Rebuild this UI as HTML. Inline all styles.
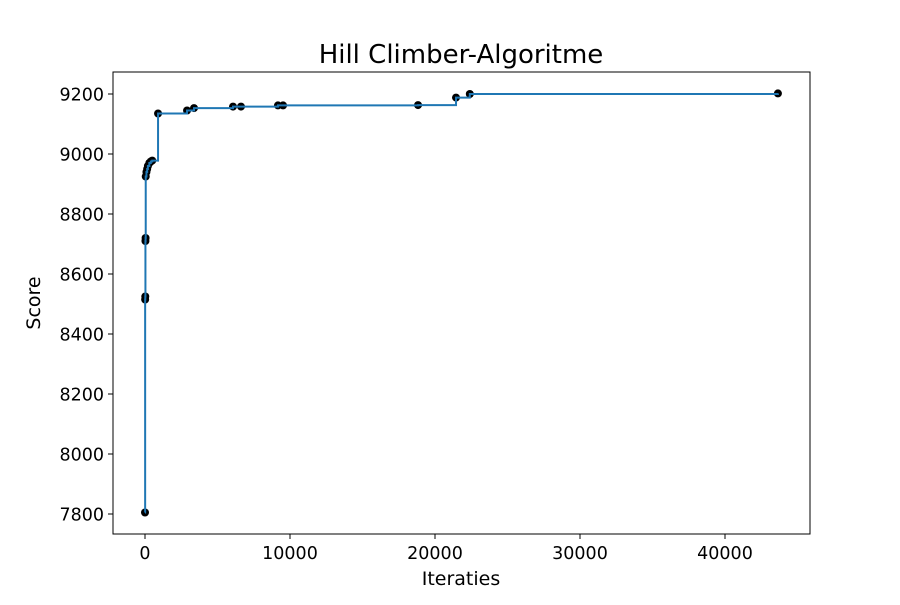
<!DOCTYPE html>
<html><head><meta charset="utf-8"><style>
html,body{margin:0;padding:0;background:#fff;}
svg text{font-family:"DejaVu Sans","Liberation Sans",sans-serif;fill:#000;}
</style></head><body>
<svg id="chart" width="900" height="600" xmlns="http://www.w3.org/2000/svg">
<rect width="900" height="600" fill="#fff"/>
<text x="461" y="63" font-size="26" text-anchor="middle">Hill Climber-Algoritme</text>
<text x="461" y="585" font-size="19" text-anchor="middle">Iteraties</text>
<text transform="translate(40,303) rotate(-90)" font-size="19" text-anchor="middle">Score</text>
<g id="plot"></g>
<rect x="113" y="72" width="697" height="462" fill="none" stroke="#000" stroke-width="1"/>
</svg>
<script>
const iterations=[0,10,20,30,40,50,100,150,200,300,400,500,900,2900,3380,6070,6620,9170,9520,18830,21450,22400,43650];
const scores=[7805,8515,8525,8710,8720,8925,8940,8950,8960,8970,8975,8978,9135,9145,9153,9158,9158,9162,9162,9163,9188,9200,9202];
const xTicks=[0,10000,20000,30000,40000];
const yTicks=[7800,8000,8200,8400,8600,8800,9000,9200];
const NS="http://www.w3.org/2000/svg";
const g=document.getElementById('plot');
function xs(v){return 145+v*0.0145;}
function ys(v){return 94+(9200-v)*0.3;}
function mk(t,a){const e=document.createElementNS(NS,t);for(const k in a)e.setAttribute(k,a[k]);g.appendChild(e);return e;}
xTicks.forEach(t=>{
  const l=mk('line',{x1:xs(t),x2:xs(t),y1:534,y2:539,stroke:'#000'});
  
  
  const tx=mk('text',{x:xs(t),y:559,'font-size':17.5,'text-anchor':'middle'});tx.textContent=t;
  
  
});
yTicks.forEach(t=>{
  const l=mk('line',{x1:108,x2:113,y1:ys(t),y2:ys(t),stroke:'#000'});
  
  
  const tx=mk('text',{x:104,y:ys(t)+6.5,'font-size':17.5,'text-anchor':'end'});tx.textContent=t;
  
  
});
let d='M'+xs(iterations[0])+','+ys(scores[0]);
for(let i=1;i<iterations.length;i++){d+=' H'+xs(iterations[i])+' V'+ys(scores[i]);}
iterations.forEach((v,i)=>{
  const c=mk('circle',{cx:xs(v),cy:ys(scores[i]),r:4,fill:'#000'});
  
  
});
const p=mk('path',{d:d,fill:'none',stroke:'#1f77b4','stroke-width':2});


</script>
</body></html>
